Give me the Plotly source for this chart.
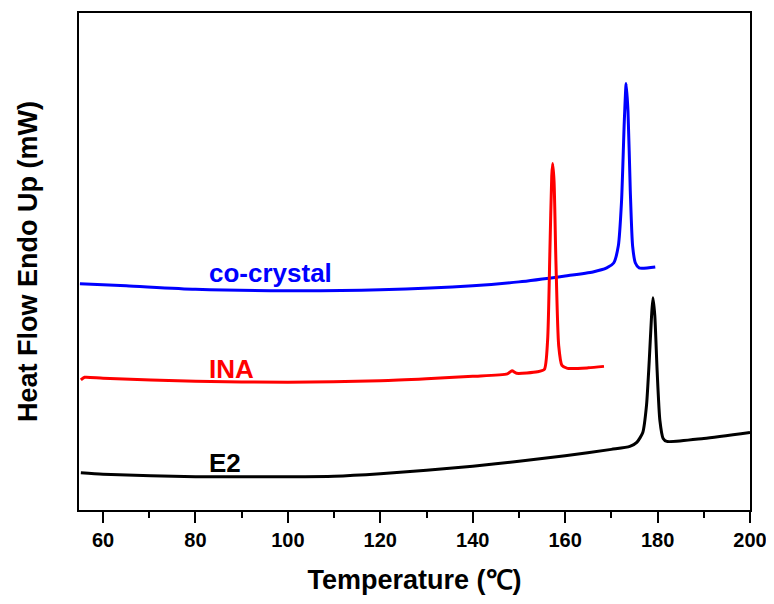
import plotly.graph_objects as go

# Temperature (°C) and heat flow (arbitrary mW units, offset stacked)
cocrystal_T = [55.0, 65, 80, 100, 120, 140, 150, 160, 166, 169, 170.5, 171.5, 172.2, 172.8, 173.2, 173.6, 174.1, 174.6, 175.2, 176, 179.5]
cocrystal_H = [45.5, 45.1, 44.4, 44.1, 44.3, 45.1, 45.9, 47.1, 47.9, 48.7, 49.7, 53.1, 62.1, 78.2, 85.8, 80.2, 64.1, 53.1, 49.7, 48.7, 48.9]

ina_T = [55.2, 56, 60, 80, 100, 120, 130, 140, 147.5, 148.5, 149.5, 154, 155.5, 156.2, 156.7, 157.1, 157.3, 157.6, 158.0, 158.6, 159.3, 160.5, 165, 168.4]
ina_H = [26.2, 26.7, 26.5, 25.9, 25.7, 26.0, 26.4, 26.9, 27.4, 28.0, 27.5, 27.8, 28.3, 34.1, 52.1, 67.2, 69.7, 66.1, 50.1, 33.1, 29.1, 28.5, 28.6, 28.9]

e2_T = [55.2, 60, 80, 100, 110, 120, 130, 140, 150, 160, 170, 174, 175.5, 176.8, 177.6, 178.2, 178.7, 179.0, 179.4, 179.9, 180.5, 181.2, 182, 190, 200]
e2_H = [7.5, 7.2, 6.7, 6.7, 6.8, 7.3, 8.0, 8.8, 9.8, 10.9, 12.2, 12.8, 13.6, 15.6, 21.0, 30.1, 39.1, 42.7, 39.1, 28.1, 18.0, 14.4, 13.8, 14.4, 15.6]

labels = ["co-crystal", "INA", "E2"]
label_T = [82.4, 82.4, 82.4]
label_H = [47.6, 28.3, 9.4]
colors = ["#0000ff", "#ff0000", "#000000"]

x_ticks = [60, 80, 100, 120, 140, 160, 180, 200]

FONT = "Liberation Sans, Arial, sans-serif"

fig = go.Figure()
for T, H, c, name in [(cocrystal_T, cocrystal_H, colors[0], labels[0]),
                      (ina_T, ina_H, colors[1], labels[1]),
                      (e2_T, e2_H, colors[2], labels[2])]:
    fig.add_trace(go.Scatter(x=T, y=H, mode="lines", name=name,
                             line=dict(color=c, width=3, shape="spline", smoothing=0.6)))

for txt, tx, ty, c in zip(labels, label_T, label_H, colors):
    fig.add_annotation(x=tx, y=ty, text=f"<b>{txt}</b>", showarrow=False,
                       xanchor="left", yanchor="middle",
                       font=dict(family=FONT, size=26, color=c))

fig.update_layout(
    width=774, height=604,
    margin=dict(l=71, r=32, t=3, b=102),
    plot_bgcolor="white", paper_bgcolor="white",
    showlegend=False,
    font=dict(family=FONT, color="black"),
)
fig.update_xaxes(
    range=[54.8, 200], tickvals=x_ticks,
    ticktext=[f"<b>{v}</b>" for v in x_ticks],
    tickfont=dict(family=FONT, size=20, color="black"),
    ticks="outside", ticklen=11, tickwidth=2, tickcolor="black",
    minor=dict(tickvals=[70, 90, 110, 130, 150, 170, 190], ticks="outside", ticklen=6, tickwidth=2, tickcolor="black"),
    showline=True, linewidth=2, linecolor="black", mirror=True,
    showgrid=False, zeroline=False,
    title=dict(text="<b>Temperature (℃)</b>", font=dict(family=FONT, size=27, color="black"), standoff=20),
)
fig.update_yaxes(
    range=[0, 100], showticklabels=False, ticks="",
    showline=True, linewidth=2, linecolor="black", mirror=True,
    showgrid=False, zeroline=False,
    title=dict(text="<b>Heat Flow Endo Up (mW)</b>", font=dict(family=FONT, size=27, color="black"), standoff=32),
)

fig.write_html("out.html")
